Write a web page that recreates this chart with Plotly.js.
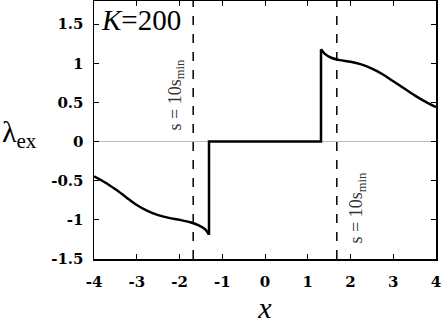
<!DOCTYPE html>
<html>
<head>
<meta charset="utf-8">
<script src="https://cdn.plot.ly/plotly-3.0.1.min.js"></script>
<style>
  html, body { margin: 0; padding: 0; background: #fff; }
  #grafica { width: 442px; height: 327px; }
</style>
</head>
<body>
<div id="grafica"></div>
<script>
// curva lambda_ex para K=200
// rama izquierda
var xIzq = [-4, -3.75, -3.5, -3.25, -3, -2.75, -2.5, -2.25, -2, -1.75, -1.55, -1.4, -1.31];
var yIzq = [-0.445, -0.52, -0.61, -0.71, -0.81, -0.885, -0.94, -0.975, -1.0, -1.03, -1.07, -1.12, -1.19];
// tramo central con los saltos
var xCentro = [-1.31, -1.31, 1.31, 1.31];
var yCentro = [-1.19, 0, 0, 1.18];
// rama derecha
var xDer = [1.31, 1.4, 1.55, 1.75, 2, 2.25, 2.5, 2.75, 3, 3.25, 3.5, 3.75, 4];
var yDer = [1.18, 1.12, 1.07, 1.04, 1.02, 0.985, 0.93, 0.86, 0.77, 0.68, 0.59, 0.51, 0.44];

var lineasS = [-1.68, 1.68]; // s = 10 s_min

var xTicks = [-4, -3, -2, -1, 0, 1, 2, 3, 4];
var xLabels = ["-4", "-3", "-2", "-1", "0", "1", "2", "3", "4"];
var yTicks = [-1.5, -1, -0.5, 0, 0.5, 1, 1.5];
var yLabels = ["-1.5", "-1", "-0.5", "0", "0.5", "1", "1.5"];

var fuenteTicks = {family: "DejaVu Serif", size: 15, color: "#000", weight: "bold"};
var linea = {color: '#000', width: 2.5};

var data = [
    {x: xIzq, y: yIzq, mode: 'lines', line: Object.assign({shape: 'spline', smoothing: 0.8}, linea)},
    {x: xCentro, y: yCentro, mode: 'lines', line: linea},
    {x: xDer, y: yDer, mode: 'lines', line: Object.assign({shape: 'spline', smoothing: 0.8}, linea)}
];

var shapes = [];
for (var i = 0; i < lineasS.length; i++) {
    shapes.push({
        type: 'line', xref: 'x', yref: 'paper',
        x0: lineasS[i], x1: lineasS[i], y0: 0, y1: 1,
        line: {color: '#000', width: 1.5, dash: 'dash'},
        layer: 'above'
    });
}

var layout = {
    width: 442, height: 327,
    margin: {l: 94, r: 6, t: 1, b: 68},
    paper_bgcolor: '#fff', plot_bgcolor: '#fff',
    showlegend: false,
    xaxis: {
        range: [-4, 4], tickvals: xTicks, ticktext: xLabels,
        ticks: 'inside', ticklen: 5, tickwidth: 1, tickcolor: '#000',
        showline: true, linecolor: '#000', linewidth: 1.5, mirror: 'ticks',
        showgrid: false, zeroline: false,
        tickfont: fuenteTicks, ticklabelstandoff: 8,
        title: {text: '<i>x</i>', font: {family: 'Liberation Serif', size: 30, color: '#000'}, standoff: 4}
    },
    yaxis: {
        range: [-1.5, 1.795], tickvals: yTicks, ticktext: yLabels,
        ticks: 'inside', ticklen: 5, tickwidth: 1, tickcolor: '#000',
        showline: true, linecolor: '#000', linewidth: 1.5, mirror: 'ticks',
        showgrid: false, zeroline: true, zerolinecolor: '#bbbbbb', zerolinewidth: 1,
        tickfont: fuenteTicks, ticklabelstandoff: 6
    },
    shapes: shapes,
    annotations: [
        {xref: 'paper', yref: 'paper', x: 0.015, y: 0.995, xanchor: 'left', yanchor: 'top',
         text: '<i>K</i>=200', showarrow: false,
         font: {family: 'Liberation Serif', size: 29, color: '#000'}},
        {xref: 'paper', yref: 'y', x: -0.275, y: 0.1, xanchor: 'left', yanchor: 'middle',
         text: 'λ<sub>ex</sub>', showarrow: false,
         font: {family: 'Liberation Serif', size: 30, color: '#000'}},
        {xref: 'x', yref: 'y', x: -2.08, y: 0.59, text: 's = 10s<sub>min</sub>',
         textangle: -90, showarrow: false,
         font: {family: 'Liberation Serif', size: 18, color: '#333'}},
        {xref: 'x', yref: 'y', x: 2.16, y: -0.85, text: 's = 10s<sub>min</sub>',
         textangle: -90, showarrow: false,
         font: {family: 'Liberation Serif', size: 18, color: '#333'}}
    ]
};

Plotly.newPlot('grafica', data, layout, {staticPlot: true});
</script>
</body>
</html>
